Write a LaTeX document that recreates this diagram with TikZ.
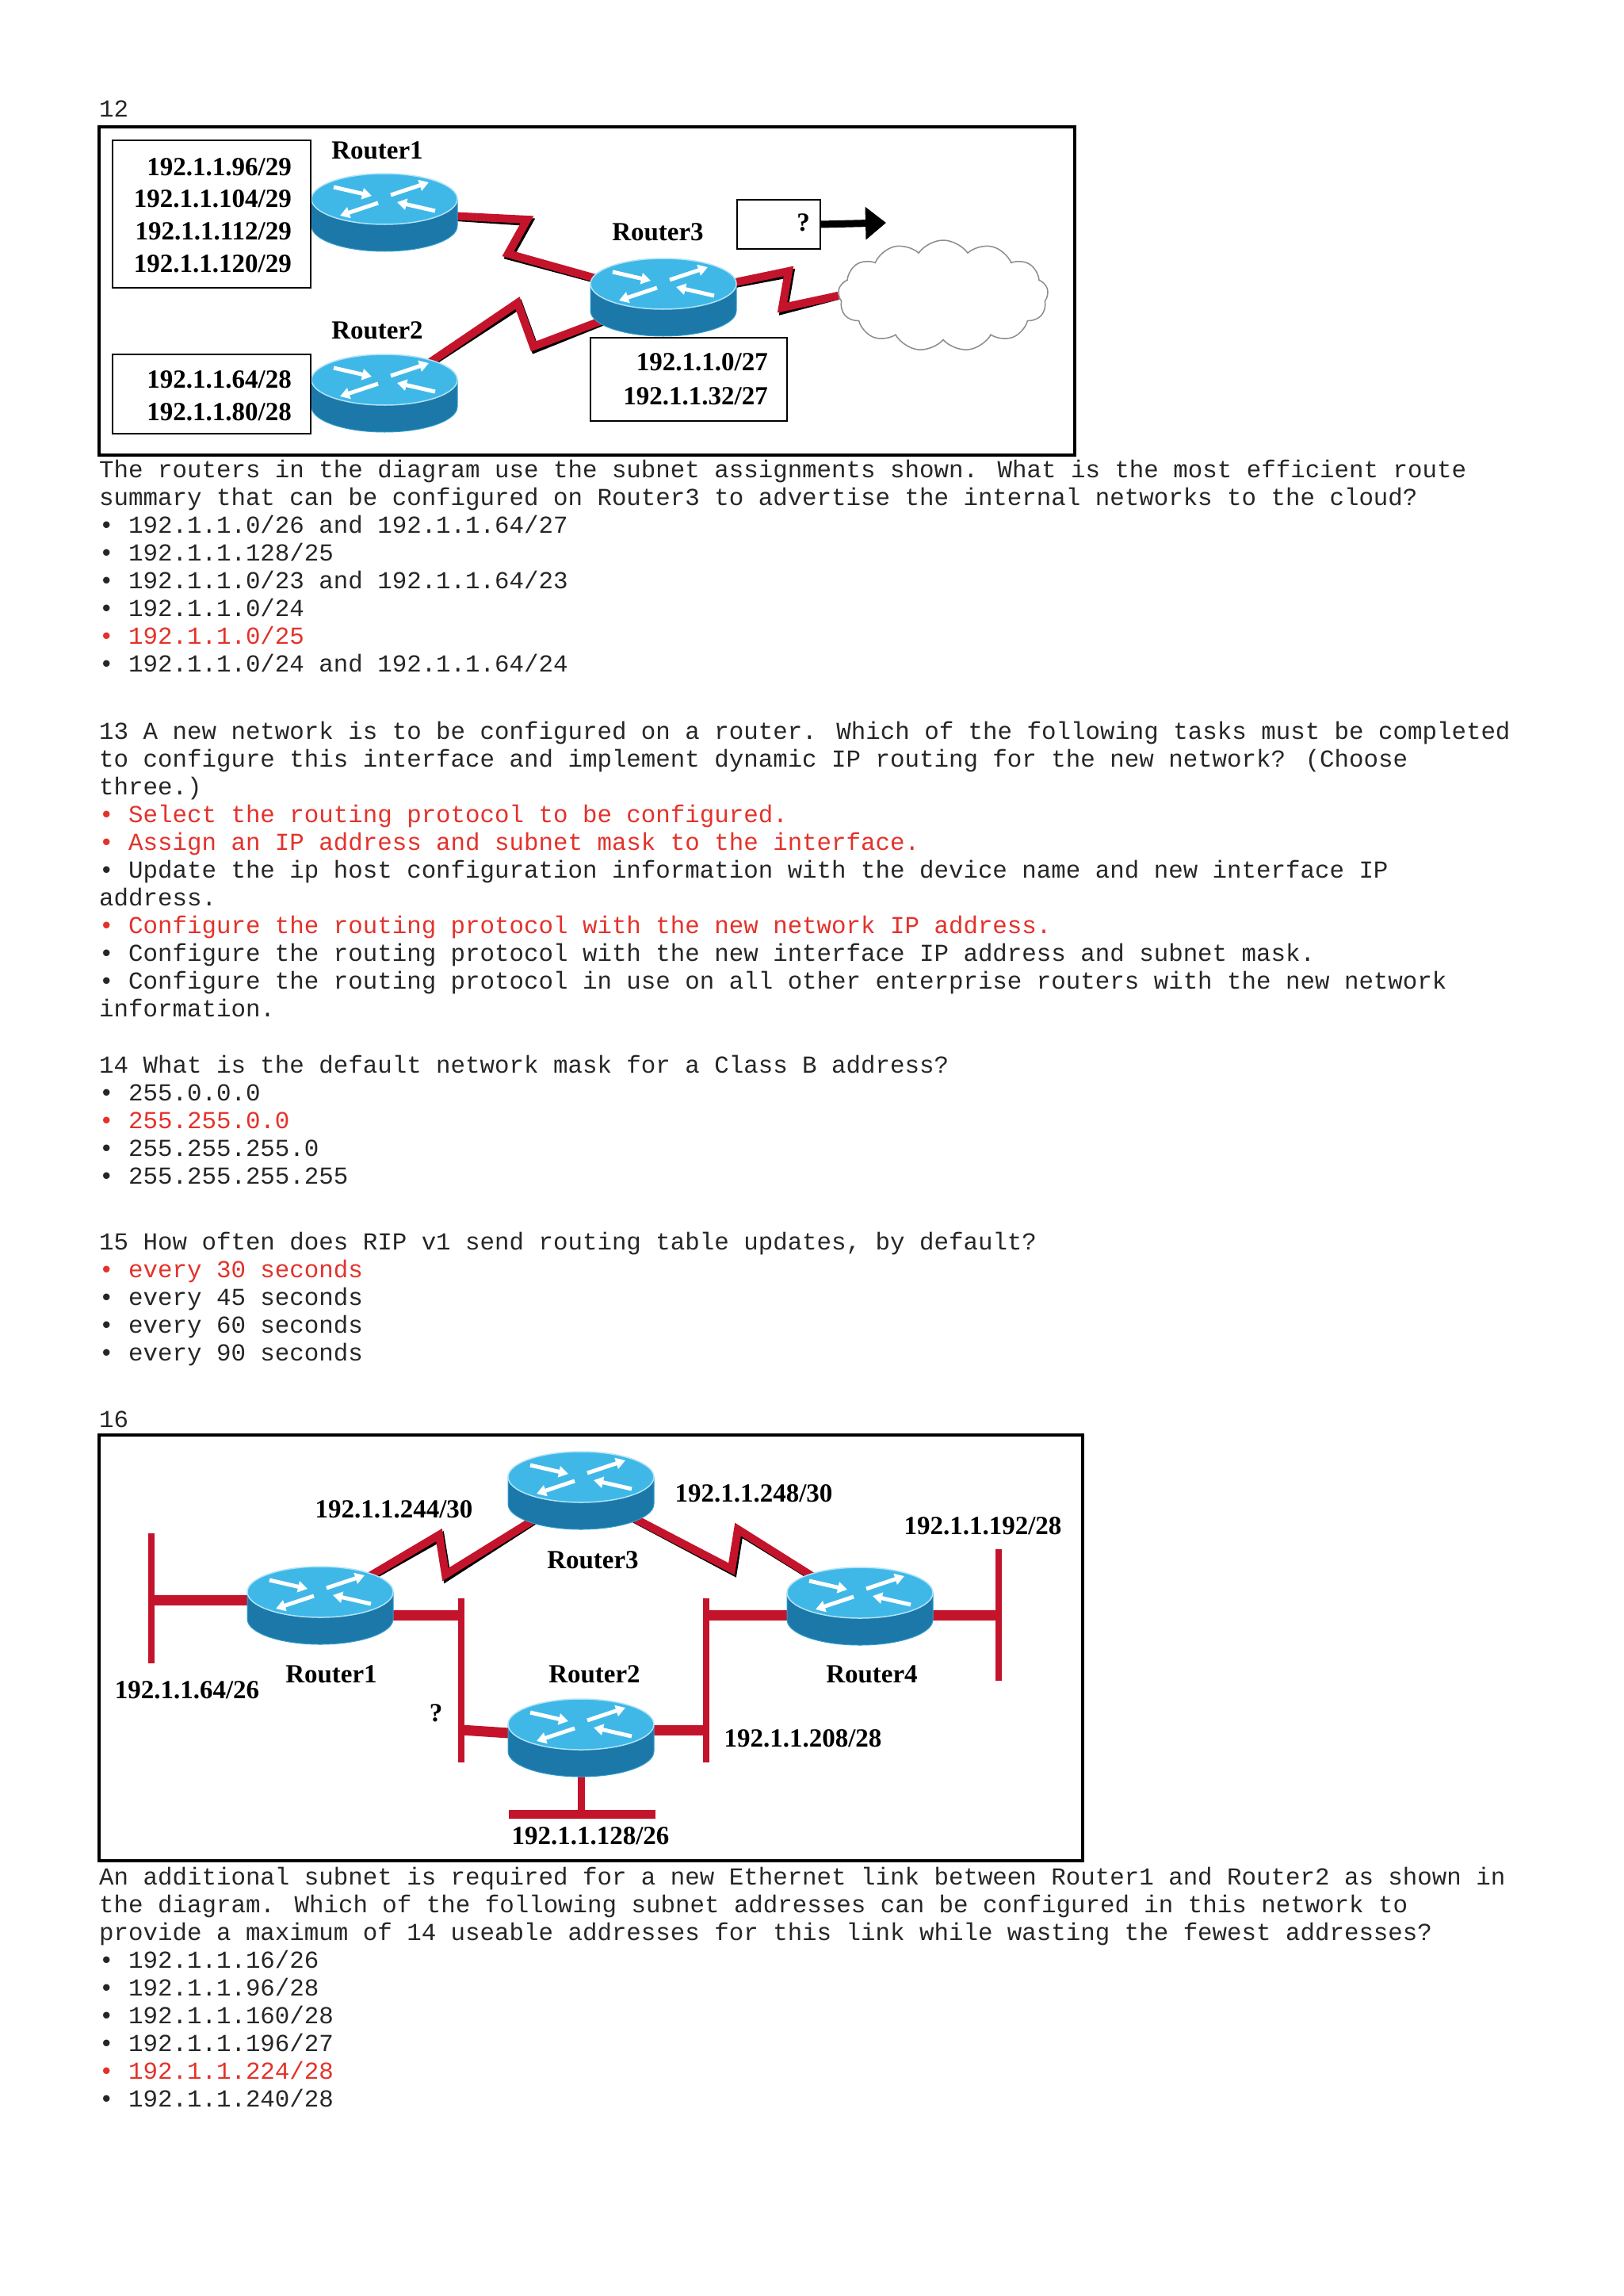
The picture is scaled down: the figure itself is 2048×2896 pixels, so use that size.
\documentclass[tikz,border=0pt]{standalone}
\usepackage{fontspec}
\setmainfont{Liberation Serif}
\newfontfamily\monof{Liberation Mono}
\usetikzlibrary{shapes.symbols,arrows.meta}
\definecolor{ans}{HTML}{E3322B}
\definecolor{ser}{HTML}{C4142C}
\definecolor{rtop}{HTML}{3FB8E8}
\definecolor{rside}{HTML}{1B78A8}
\tikzset{
 txt/.style={anchor=base west,inner sep=0pt,font=\monof\fontsize{30.8}{35}\selectfont,text=black!85},
 red/.style={txt,text=ans},
 lbl/.style={inner sep=0pt,font=\fontsize{33}{38}\selectfont\bfseries},
 serial/.style={draw=ser,line width=10pt,line join=miter},
 shadowl/.style={draw=black,line width=10pt,line join=miter},
 eth/.style={draw=ser,line width=13pt},
 ethbar/.style={draw=ser,line width=8pt},
 netbox/.style={draw,line width=2pt,inner sep=0pt,fill=white}
}
\newcommand\rtr[3]{%
 \begin{scope}[shift={(#2,#3)}]
  \fill[rside,draw=rtop!60!rside,line width=1pt] (-92,-17) -- (-92,17) arc[x radius=92,y radius=32,start angle=180,end angle=0] -- (92,-17) -- cycle;
  \fill[rtop,draw=white!60!rtop,line width=1.5pt] (0,-17) ellipse[x radius=92,y radius=32];
  \draw[white,line width=5pt,-{Triangle[length=12pt,width=14pt]}] (-64,-32)--(-16,-21);
  \draw[white,line width=5pt,-{Triangle[length=12pt,width=14pt]}] (64,-2)--(16,-13);
  \draw[white,line width=5pt,-{Triangle[length=12pt,width=14pt]}] (8,-22)--(56,-38);
  \draw[white,line width=5pt,-{Triangle[length=12pt,width=14pt]}] (-8,-12)--(-56,4);
  \node[inner sep=0pt,minimum width=184pt,minimum height=98pt] (#1) at (0,0) {};
 \end{scope}}
\begin{document}
\begin{tikzpicture}[x=1pt,y=-1pt]
\useasboundingbox[fill=white] (0,0) rectangle (2048,2896);
% ---------- text ----------
\node[txt] (n12) at (125,147) {12};
\node[txt] (t1) at (125,602) {The routers in the diagram use the subnet assignments shown. What is the most efficient route};
\node[txt] (t2) at (125,637) {summary that can be configured on Router3 to advertise the internal networks to the cloud?};
\node[txt] (t3) at (125,672) {• 192.1.1.0/26 and 192.1.1.64/27};
\node[txt] (t4) at (125,707) {• 192.1.1.128/25};
\node[txt] (t5) at (125,742) {• 192.1.1.0/23 and 192.1.1.64/23};
\node[txt] (t6) at (125,777) {• 192.1.1.0/24};
\node[red] (t7) at (125,812) {• 192.1.1.0/25};
\node[txt] (t8) at (125,847) {• 192.1.1.0/24 and 192.1.1.64/24};
\node[txt] (u1) at (125,932) {13 A new network is to be configured on a router. Which of the following tasks must be completed};
\node[txt] (u2) at (125,967) {to configure this interface and implement dynamic IP routing for the new network? (Choose};
\node[txt] (u3) at (125,1002) {three.)};
\node[red] (u4) at (125,1037) {• Select the routing protocol to be configured.};
\node[red] (u5) at (125,1072) {• Assign an IP address and subnet mask to the interface.};
\node[txt] (u6) at (125,1107) {• Update the ip host configuration information with the device name and new interface IP};
\node[txt] (u7) at (125,1142) {address.};
\node[red] (u8) at (125,1177) {• Configure the routing protocol with the new network IP address.};
\node[txt] (u9) at (125,1212) {• Configure the routing protocol with the new interface IP address and subnet mask.};
\node[txt] (u10) at (125,1247) {• Configure the routing protocol in use on all other enterprise routers with the new network};
\node[txt] (u11) at (125,1282) {information.};
\node[txt] (v1) at (125,1353) {14 What is the default network mask for a Class B address?};
\node[txt] (v2) at (125,1388) {• 255.0.0.0};
\node[red] (v3) at (125,1423) {• 255.255.0.0};
\node[txt] (v4) at (125,1458) {• 255.255.255.0};
\node[txt] (v5) at (125,1493) {• 255.255.255.255};
\node[txt] (w1) at (125,1576) {15 How often does RIP v1 send routing table updates, by default?};
\node[red] (w2) at (125,1611) {• every 30 seconds};
\node[txt] (w3) at (125,1646) {• every 45 seconds};
\node[txt] (w4) at (125,1681) {• every 60 seconds};
\node[txt] (w5) at (125,1716) {• every 90 seconds};
\node[txt] (n16) at (125,1800) {16};
\node[txt] (x1) at (125,2377) {An additional subnet is required for a new Ethernet link between Router1 and Router2 as shown in};
\node[txt] (x2) at (125,2412) {the diagram. Which of the following subnet addresses can be configured in this network to};
\node[txt] (x3) at (125,2447) {provide a maximum of 14 useable addresses for this link while wasting the fewest addresses?};
\node[txt] (x4) at (125,2482) {• 192.1.1.16/26};
\node[txt] (x5) at (125,2517) {• 192.1.1.96/28};
\node[txt] (x6) at (125,2552) {• 192.1.1.160/28};
\node[txt] (x7) at (125,2587) {• 192.1.1.196/27};
\node[red] (x8) at (125,2622) {• 192.1.1.224/28};
\node[txt] (x9) at (125,2657) {• 192.1.1.240/28};
% ---------- diagram 12 ----------
\draw[line width=4.5pt] (125,160) rectangle (1356,574);
\coordinate (A1) at (485,268); \coordinate (A2) at (485,496); \coordinate (A3) at (837,375);
\draw[shadowl,shift={(2,3)}] (A1) -- (665,277) -- (641,320) -- (A3);
\draw[serial] (A1) -- (665,277) -- (641,320) -- (A3);
\draw[shadowl,shift={(2,3)}] (A2) -- (653,382) -- (673,437) -- (A3);
\draw[serial] (A2) -- (653,382) -- (673,437) -- (A3);
\node[cloud,cloud puffs=13,cloud puff arc=110,draw=black!45,line width=1.5pt,fill=white,minimum width=265pt,minimum height=140pt,aspect=1.9] (cloud) at (1190,373) {};
\draw[shadowl,shift={(2,3)}] (A3) -- (995,342) -- (987,388) -- (cloud.west);
\draw[serial] (A3) -- (995,342) -- (987,388) -- (cloud.west);
\rtr{r1}{485}{268}
\rtr{r2}{485}{496}
\rtr{r3}{837}{375}
\node[lbl] (r1l) at (476,190) {Router1};
\node[lbl] (r2l) at (476,417) {Router2};
\node[lbl] (r3l) at (830,293) {Router3};
\node[netbox,minimum width=250pt,minimum height=186pt] (b1) at (267,270) {};
\node[lbl,anchor=base east] at (368,221) {192.1.1.96/29};
\node[lbl,anchor=base east] at (368,261) {192.1.1.104/29};
\node[lbl,anchor=base east] at (368,302) {192.1.1.112/29};
\node[lbl,anchor=base east] at (368,343) {192.1.1.120/29};
\node[netbox,minimum width=250pt,minimum height=100pt] (b2) at (267,497) {};
\node[lbl,anchor=base east] at (368,489) {192.1.1.64/28};
\node[lbl,anchor=base east] at (368,530) {192.1.1.80/28};
\node[netbox,minimum width=248pt,minimum height=105pt] (b3) at (869,478) {};
\node[lbl,anchor=base east] at (969,467) {192.1.1.0/27};
\node[lbl,anchor=base east] at (969,510) {192.1.1.32/27};
\node[netbox,minimum width=105pt,minimum height=62pt] (q) at (982,283) {};
\node[lbl,anchor=east] (qm) at (1022,281) {?};
\coordinate (qa) at (1118,281);
\draw[line width=9pt,-{Triangle[length=26pt,width=40pt]}] (q.east) -- (qa);
% ---------- diagram 16 ----------
\draw[line width=4.5pt] (125,1810) rectangle (1366,2347);
\coordinate (B1) at (404,2025); \coordinate (B2) at (733,2192); \coordinate (B3) at (733,1880); \coordinate (B4) at (1085,2026);
\draw[shadowl,shift={(2,3)}] (B1) -- (554,1936) -- (562,1986) -- (B3);
\draw[serial] (B1) -- (554,1936) -- (562,1986) -- (B3);
\draw[shadowl,shift={(2,3)}] (B3) -- (923,1979) -- (931,1929) -- (B4);
\draw[serial] (B3) -- (923,1979) -- (931,1929) -- (B4);
\coordinate (e1t) at (191,1934); \coordinate (e1b) at (191,2098);
\draw[ethbar] (e1t) -- (e1b);
\draw[eth] (191,2018) -- (B1 |- 0,2018);
\coordinate (e2t) at (582,2016); \coordinate (e2b) at (582,2223);
\draw[ethbar] (e2t) -- (e2b);
\draw[eth] (B1 |- 0,2037) -- (582,2037);
\draw[eth] (B2) -- (582,2182);
\coordinate (e3t) at (891,2016); \coordinate (e3b) at (891,2223);
\draw[ethbar] (e3t) -- (e3b);
\draw[eth] (B4 |- 0,2037) -- (891,2037);
\draw[eth] (B2 |- 0,2182) -- (891,2182);
\coordinate (e4t) at (1260,1954); \coordinate (e4b) at (1260,2120);
\draw[ethbar] (e4t) -- (e4b);
\draw[eth] (B4 |- 0,2037) -- (1260,2037);
\coordinate (e5l) at (642,2288); \coordinate (e5r) at (827,2288);
\draw[line width=9pt,draw=ser] (B2) -- (733,2288);
\draw[line width=11pt,draw=ser] (e5l) -- (e5r);
\rtr{s1}{404}{2025}
\rtr{s2}{733}{2192}
\rtr{s3}{733}{1880}
\rtr{s4}{1085}{2026}
\node[lbl] (l244) at (497,1904) {192.1.1.244/30};
\node[lbl] (l248) at (951,1884) {192.1.1.248/30};
\node[lbl] (s3l) at (748,1968) {Router3};
\node[lbl] (l192) at (1240,1925) {192.1.1.192/28};
\node[lbl] (l64) at (236,2132) {192.1.1.64/26};
\node[lbl] (s1l) at (418,2112) {Router1};
\node[lbl] (s2l) at (750,2112) {Router2};
\node[lbl] (s4l) at (1100,2112) {Router4};
\node[lbl] (qq) at (550,2161) {?};
\node[lbl] (l208) at (1013,2193) {192.1.1.208/28};
\node[lbl] (l128) at (745,2316) {192.1.1.128/26};
\end{tikzpicture}
\end{document}
